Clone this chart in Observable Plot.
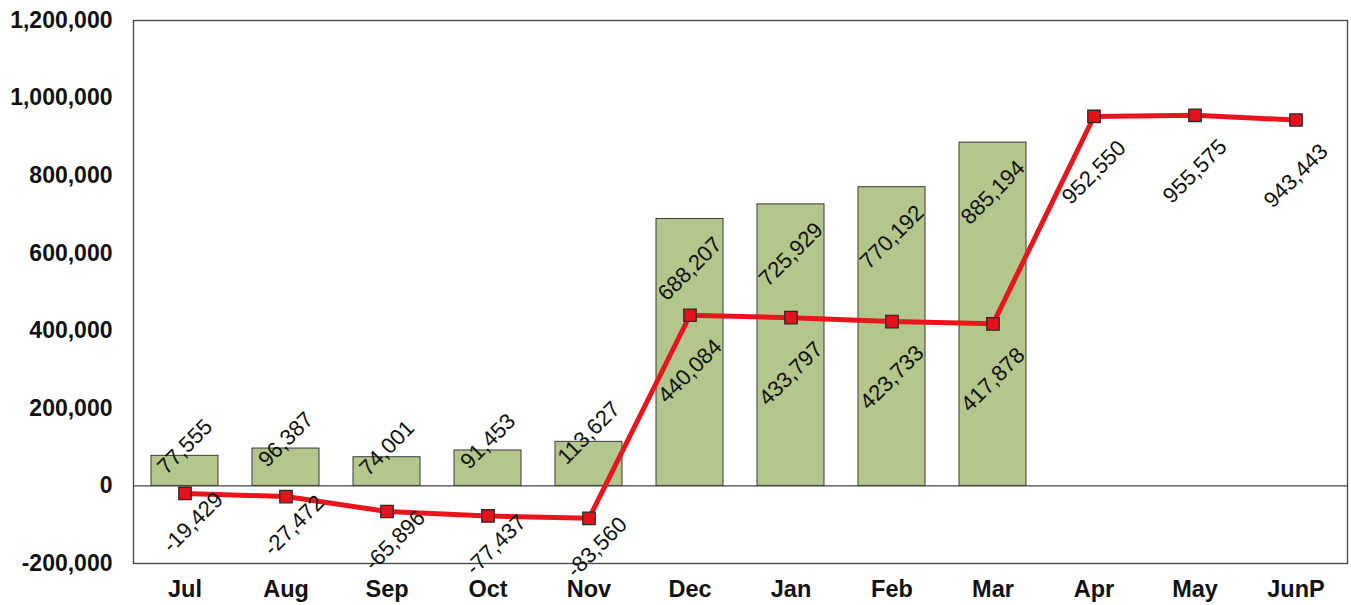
<!DOCTYPE html>
<html>
<head>
<meta charset="utf-8">
<script src="https://cdn.jsdelivr.net/npm/d3@7"></script>
<script src="https://cdn.jsdelivr.net/npm/@observablehq/plot@0.6"></script>
<style>
  html, body { margin: 0; padding: 0; background: #fff; }
  #chart svg { display: block; }
</style>
</head>
<body>
<div id="chart"></div>
<script>
const months = ["Jul", "Aug", "Sep", "Oct", "Nov", "Dec", "Jan", "Feb", "Mar", "Apr", "May", "JunP"];
const barValues = [77555, 96387, 74001, 91453, 113627, 688207, 725929, 770192, 885194, null, null, null];
const lineValues = [-19429, -27472, -65896, -77437, -83560, 440084, 433797, 423733, 417878, 952550, 955575, 943443];
const yTicks = [-200000, 0, 200000, 400000, 600000, 800000, 1000000, 1200000];

const bars = months.map((m, i) => ({month: m, value: barValues[i]})).filter(d => d.value != null);
const line = months.map((m, i) => ({month: m, value: lineValues[i]}));
const fmt = d3.formatLocale({decimal: ".", thousands: ",", grouping: [3], currency: ["$", ""], minus: "-"}).format(",");

const labelStyle = {text: d => fmt(d.value), rotate: -45, fontSize: 22, textAnchor: "middle", lineAnchor: "middle", fill: "#111"};

const chart = Plot.plot({
  width: 1351,
  height: 605,
  marginLeft: 133,
  marginRight: 4,
  marginTop: 20,
  marginBottom: 42,
  style: {fontFamily: "'Liberation Sans', Arial, sans-serif", fontSize: "22px", color: "#111", background: "#fff"},
  x: {domain: months, paddingInner: 0.34, paddingOuter: 0.17, label: null},
  y: {domain: [-200000, 1200000], label: null},
  marks: [
    Plot.barY(bars, {x: "month", y: "value", fill: "#b3c68c", stroke: "#3a3a3a", strokeWidth: 1}),
    Plot.ruleY([0], {stroke: "#444", strokeWidth: 1.2}),
    Plot.frame({stroke: "#444", strokeWidth: 1.3}),
    Plot.axisY({ticks: yTicks, tickFormat: fmt, tickSize: 0, tickPadding: 21, fontSize: 23, fontWeight: "bold", label: null}),
    Plot.axisX({tickSize: 0, tickPadding: 17, fontSize: 23.5, fontWeight: "bold", label: null}),
    // bar labels: above short bars, inside tall bars
    Plot.text(bars.filter(d => d.value < 300000), {x: "month", y: "value", ...labelStyle, dy: -9}),
    Plot.text(bars.filter(d => d.value >= 300000), {x: "month", y: "value", ...labelStyle, dy: 50}),
    Plot.line(line, {x: "month", y: "value", stroke: "#e8161c", strokeWidth: 5}),
    Plot.dot(line, {x: "month", y: "value", symbol: "square", r: 7, fill: "#e5121b", stroke: "#2a2a2a", strokeWidth: 1.3}),
    // line labels below the markers
    Plot.text(line.filter(d => d.value < 0), {x: "month", y: "value", ...labelStyle, dx: 8, dy: 29}),
    Plot.text(line.filter(d => d.value >= 0), {x: "month", y: "value", ...labelStyle, dy: 56}),
  ]
});
document.getElementById("chart").appendChild(chart);
</script>
</body>
</html>
